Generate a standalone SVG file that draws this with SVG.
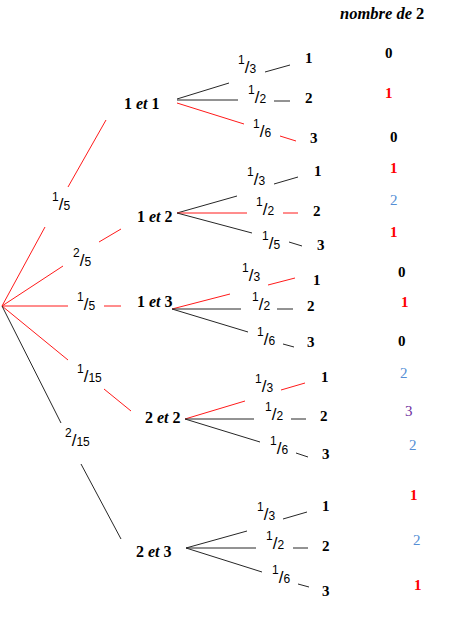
<svg xmlns="http://www.w3.org/2000/svg" width="465" height="618" viewBox="0 0 465 618">
<style>
line{stroke:#262626;stroke-width:1;fill:none}
line.r{stroke:#ff1a1a}
.nd{font-family:"Liberation Serif",serif;font-weight:bold;font-size:16px;fill:#000}
.lf{font-family:"Liberation Serif",serif;font-weight:bold;font-size:15px;fill:#000}
.it{font-style:italic}
.fr{font-family:"Liberation Sans",sans-serif;font-size:12px;fill:#000}
.sl{font-size:17px}
.cr{fill:#ff0000}
.cb{fill:#558ed5;font-weight:normal}
.cp{fill:#7030a0;font-weight:normal}
</style>
<rect width="465" height="618" fill="#fff"/>
<g id="connectors">
<line class="r" x1="2" y1="306" x2="45" y2="227"/><line class="r" x1="68" y1="187" x2="106" y2="120"/>
<line class="r" x1="2" y1="306" x2="63" y2="266"/><line class="r" x1="99" y1="242" x2="121" y2="229"/>
<line class="r" x1="2" y1="306" x2="68" y2="306"/><line class="r" x1="104" y1="306" x2="121" y2="306"/>
<line class="r" x1="2" y1="306" x2="68" y2="360"/><line class="r" x1="104" y1="389" x2="131" y2="411"/>
<line x1="2" y1="306" x2="61" y2="423"/><line x1="81" y1="464" x2="121" y2="539"/>

<line x1="177" y1="99" x2="229" y2="83"/><line x1="265" y1="72" x2="290" y2="65"/>
<line x1="177" y1="100" x2="238" y2="100"/><line x1="274" y1="101" x2="290" y2="101"/>
<line class="r" x1="177" y1="103" x2="244" y2="124"/><line class="r" x1="280" y1="136" x2="296" y2="141"/>

<line x1="177" y1="213" x2="237" y2="196"/><line x1="274" y1="184" x2="298" y2="177"/>
<line class="r" x1="177" y1="213" x2="247" y2="213"/><line class="r" x1="283" y1="213" x2="298" y2="213"/>
<line x1="177" y1="213" x2="252" y2="233"/><line x1="289" y1="242" x2="302" y2="246"/>

<line class="r" x1="172" y1="309" x2="230" y2="294"/><line class="r" x1="268" y1="285" x2="295" y2="278"/>
<line x1="172" y1="309" x2="241" y2="309"/><line x1="277" y1="309" x2="293" y2="309"/>
<line x1="172" y1="309" x2="248" y2="332"/><line x1="283" y1="344" x2="294" y2="347"/>

<line class="r" x1="185" y1="419" x2="245" y2="401"/><line class="r" x1="281" y1="390" x2="305" y2="383"/>
<line x1="185" y1="419" x2="254" y2="419"/><line x1="291" y1="419" x2="306" y2="419"/>
<line x1="185" y1="419" x2="260" y2="442"/><line x1="296" y1="453" x2="308" y2="457"/>

<line x1="186" y1="548" x2="247" y2="531"/><line x1="283" y1="519" x2="307" y2="512"/>
<line x1="186" y1="548" x2="256" y2="548"/><line x1="293" y1="548" x2="308" y2="548"/>
<line x1="186" y1="548" x2="262" y2="572"/><line x1="298" y1="584" x2="309" y2="587"/>
</g>
<g id="edge-labels" class="fr">
<text x="52" y="210"><tspan dy="-9">1</tspan><tspan class="sl" dy="9">/</tspan><tspan>5</tspan></text>
<text x="73" y="266"><tspan dy="-9">2</tspan><tspan class="sl" dy="9">/</tspan><tspan>5</tspan></text>
<text x="77" y="310"><tspan dy="-9">1</tspan><tspan class="sl" dy="9">/</tspan><tspan>5</tspan></text>
<text x="77" y="382"><tspan dy="-9">1</tspan><tspan class="sl" dy="9">/</tspan><tspan>15</tspan></text>
<text x="65" y="446"><tspan dy="-9">2</tspan><tspan class="sl" dy="9">/</tspan><tspan>15</tspan></text>

<text x="238" y="73"><tspan dy="-9">1</tspan><tspan class="sl" dy="9">/</tspan><tspan>3</tspan></text>
<text x="248" y="103"><tspan dy="-9">1</tspan><tspan class="sl" dy="9">/</tspan><tspan>2</tspan></text>
<text x="253" y="137"><tspan dy="-9">1</tspan><tspan class="sl" dy="9">/</tspan><tspan>6</tspan></text>

<text x="247" y="185"><tspan dy="-9">1</tspan><tspan class="sl" dy="9">/</tspan><tspan>3</tspan></text>
<text x="256" y="215"><tspan dy="-9">1</tspan><tspan class="sl" dy="9">/</tspan><tspan>2</tspan></text>
<text x="262" y="249"><tspan dy="-9">1</tspan><tspan class="sl" dy="9">/</tspan><tspan>5</tspan></text>

<text x="242" y="281"><tspan dy="-9">1</tspan><tspan class="sl" dy="9">/</tspan><tspan>3</tspan></text>
<text x="252" y="310"><tspan dy="-9">1</tspan><tspan class="sl" dy="9">/</tspan><tspan>2</tspan></text>
<text x="257" y="345"><tspan dy="-9">1</tspan><tspan class="sl" dy="9">/</tspan><tspan>6</tspan></text>

<text x="255" y="392"><tspan dy="-9">1</tspan><tspan class="sl" dy="9">/</tspan><tspan>3</tspan></text>
<text x="265" y="420"><tspan dy="-9">1</tspan><tspan class="sl" dy="9">/</tspan><tspan>2</tspan></text>
<text x="270" y="454"><tspan dy="-9">1</tspan><tspan class="sl" dy="9">/</tspan><tspan>6</tspan></text>

<text x="257" y="520"><tspan dy="-9">1</tspan><tspan class="sl" dy="9">/</tspan><tspan>3</tspan></text>
<text x="266" y="549"><tspan dy="-9">1</tspan><tspan class="sl" dy="9">/</tspan><tspan>2</tspan></text>
<text x="272" y="583"><tspan dy="-9">1</tspan><tspan class="sl" dy="9">/</tspan><tspan>6</tspan></text>
</g>
<g id="n11"><text class="nd" x="124" y="109">1 <tspan class="it">et</tspan> 1</text></g>
<g id="n12"><text class="nd" x="137" y="222">1 <tspan class="it">et</tspan> 2</text></g>
<g id="n13"><text class="nd" x="137" y="307">1 <tspan class="it">et</tspan> 3</text></g>
<g id="n22"><text class="nd" x="145" y="423">2 <tspan class="it">et</tspan> 2</text></g>
<g id="n23"><text class="nd" x="136" y="557">2 <tspan class="it">et</tspan> 3</text></g>

<g id="n11-1"><text class="lf" x="305" y="63">1</text></g>
<g id="n11-2"><text class="lf" x="305" y="103">2</text></g>
<g id="n11-3"><text class="lf" x="310" y="143">3</text></g>
<g id="n12-1"><text class="lf" x="314" y="176">1</text></g>
<g id="n12-2"><text class="lf" x="313" y="216">2</text></g>
<g id="n12-3"><text class="lf" x="317" y="250">3</text></g>
<g id="n13-1"><text class="lf" x="313" y="285">1</text></g>
<g id="n13-2"><text class="lf" x="307" y="311">2</text></g>
<g id="n13-3"><text class="lf" x="307" y="347">3</text></g>
<g id="n22-1"><text class="lf" x="321" y="382">1</text></g>
<g id="n22-2"><text class="lf" x="320" y="421">2</text></g>
<g id="n22-3"><text class="lf" x="322" y="459">3</text></g>
<g id="n23-1"><text class="lf" x="322" y="511">1</text></g>
<g id="n23-2"><text class="lf" x="322" y="551">2</text></g>
<g id="n23-3"><text class="lf" x="322" y="596">3</text></g>

<g id="count-column" class="lf">
<text class="it" x="340" y="19" font-size="16.5">nombre de <tspan font-style="normal">2</tspan></text>
<text x="385" y="58">0</text>
<text class="cr" x="385" y="98">1</text>
<text x="390" y="142">0</text>
<text class="cr" x="390" y="173">1</text>
<text class="cb" x="390" y="205">2</text>
<text class="cr" x="390" y="237">1</text>
<text x="398" y="277">0</text>
<text class="cr" x="401" y="307">1</text>
<text x="398" y="346">0</text>
<text class="cb" x="400" y="378">2</text>
<text class="cp" x="405" y="416">3</text>
<text class="cb" x="409" y="450">2</text>
<text class="cr" x="410" y="500">1</text>
<text class="cb" x="413" y="545">2</text>
<text class="cr" x="414" y="590">1</text>
</g>
</svg>
